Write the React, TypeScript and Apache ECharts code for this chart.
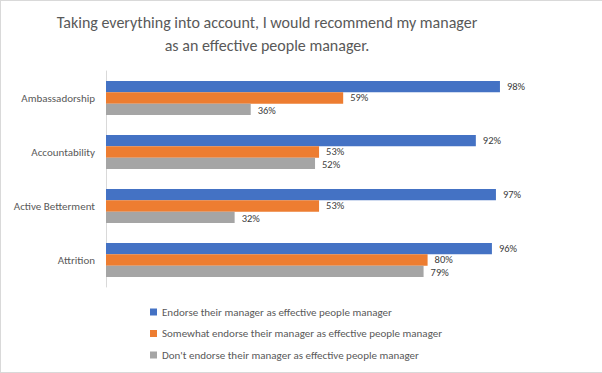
import React, { useEffect, useRef } from "react";
import * as echarts from "echarts";

const categories = ["Ambassadorship", "Accountability", "Active Betterment", "Attrition"];
const seriesNames = [
  "Endorse their manager as effective people manager",
  "Somewhat endorse their manager as effective people manager",
  "Don't endorse their manager as effective people manager",
];
const endorse = [98, 92, 97, 96];
const somewhat = [59, 53, 53, 80];
const dont = [36, 52, 32, 79];
const colors = ["#4472C4", "#ED7D31", "#A5A5A5"];
const labelOffsets = [[0, 0], [0, -1], [0, 1]];
const titleText = "Taking everything into account, I would recommend my manager\nas an effective people manager.";

const FONT = "Carlito, Lato, sans-serif";

export default function App() {
  const ref = useRef<HTMLDivElement>(null);
  useEffect(() => {
    if (!ref.current) return;
    const chart = echarts.init(ref.current, undefined, { renderer: "svg" });
    const values = [endorse, somewhat, dont];
    chart.setOption({
      animation: false,
      textStyle: { fontFamily: FONT },
      title: {
        text: titleText,
        left: 261,
        textAlign: "center",
        top: 5,
        textStyle: { fontSize: 16, fontWeight: "normal", color: "#595959", lineHeight: 23, fontFamily: FONT },
      },
      grid: { left: 105, top: 70, width: 402, height: 216, containLabel: false },
      xAxis: { type: "value", min: 0, max: 100, show: false },
      yAxis: {
        type: "category",
        data: categories,
        inverse: true,
        axisLine: { show: true, lineStyle: { color: "#D9D9D9", width: 1 } },
        axisTick: { show: false },
        axisLabel: { color: "#595959", fontSize: 11, margin: 11, fontFamily: FONT },
      },
      legend: {
        orient: "vertical",
        left: 149,
        top: 304,
        padding: 0,
        itemWidth: 7,
        itemHeight: 7,
        itemGap: 7.5,
        icon: "rect",
        textStyle: { color: "#595959", fontSize: 11, fontFamily: FONT, lineHeight: 14 },
        data: seriesNames,
      },
      series: seriesNames.map((name, i) => ({
        name,
        type: "bar",
        data: values[i],
        itemStyle: { color: colors[i] },
        barGap: "0%",
        barCategoryGap: "37%",
        label: {
          show: true,
          position: "right",
          distance: 7,
          offset: labelOffsets[i],
          formatter: "{c}%",
          color: "#404040",
          fontSize: 10.5,
          lineHeight: 10,
          fontFamily: FONT,
        },
      })),
    });
    return () => chart.dispose();
  }, []);
  return (
    <div
      style={{
        position: "absolute",
        left: 0,
        top: 0,
        width: 602,
        height: 373,
        boxSizing: "border-box",
        borderTop: "1px solid #D9D9D9",
        borderLeft: "1px solid #D9D9D9",
        borderBottom: "1px solid #D9D9D9",
        background: "#fff",
      }}
    >
      <div ref={ref} style={{ width: 601, height: 371 }} />
    </div>
  );
}
